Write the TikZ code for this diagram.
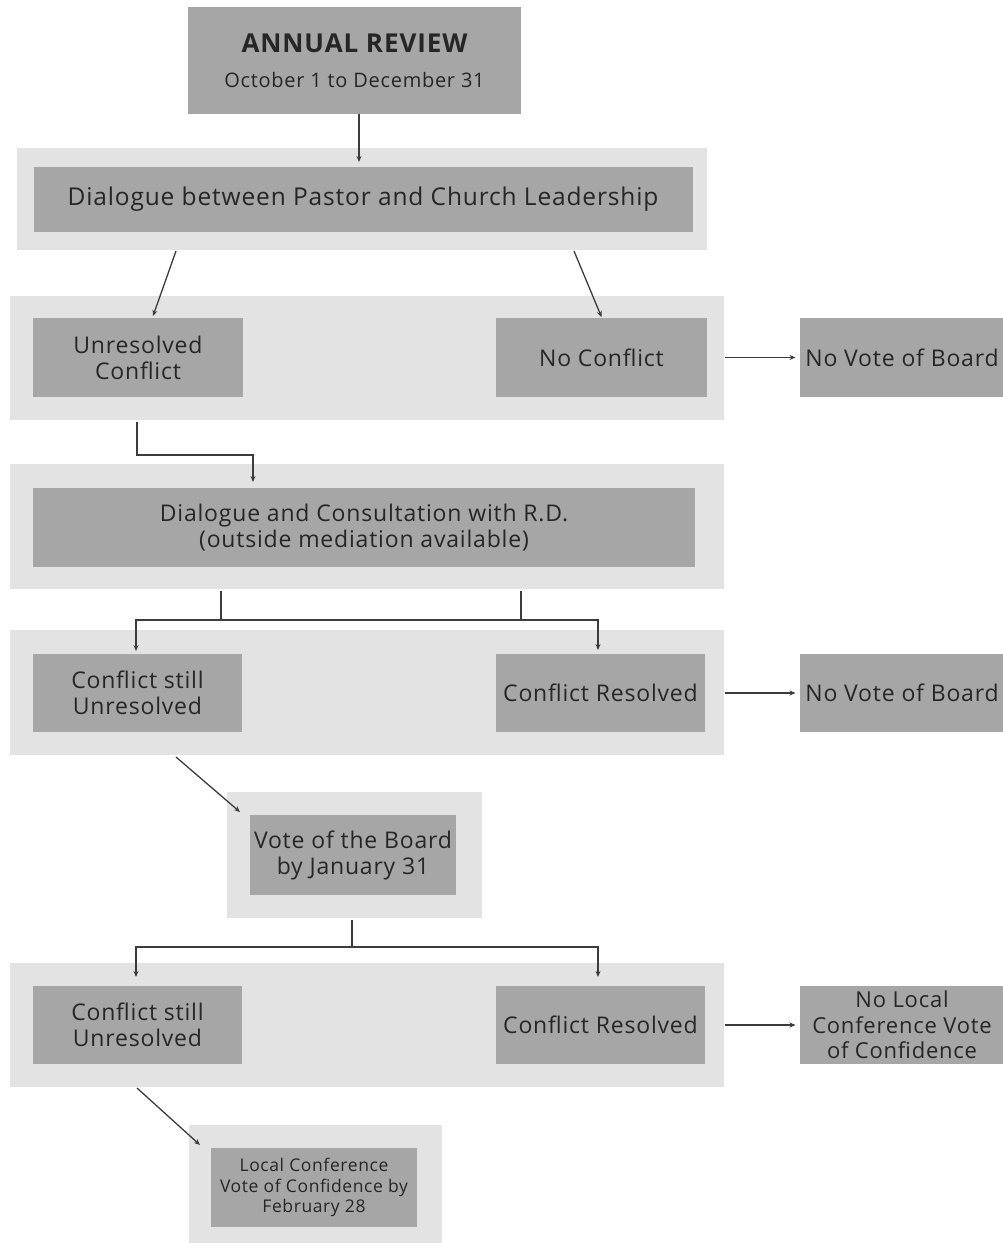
\documentclass[tikz,border=0pt]{standalone}
\usepackage{fontspec}
\setmainfont{Open Sans}[LetterSpace=3.5]
\usetikzlibrary{arrows.meta,calc}
\definecolor{dk}{HTML}{A6A6A6}
\definecolor{lt}{HTML}{E3E3E3}
\definecolor{lnc}{HTML}{3C3C3C}
\definecolor{tx}{HTML}{262626}
\begin{document}
\begin{tikzpicture}[x=1pt,y=-1pt,
  outer/.style={fill=lt, draw=none, inner sep=0pt, outer sep=0pt},
  box/.style={fill=dk, draw=none, inner sep=0pt, outer sep=0pt, text=tx, align=center,
              font=\fontsize{23}{26}\selectfont},
  arr/.style={draw=lnc, line width=1.3pt, -{Stealth[length=6pt,width=5pt]}},
  lnk/.style={draw=lnc, line width=1.3pt}]
\clip (0,0) rectangle (1003,1243);
\fill[white] (0,0) rectangle (1003,1243);

% top box
\node[box, minimum width=333pt, minimum height=107pt] (annual) at (354.5,60.5)
  {{\fontsize{26}{28}\selectfont\bfseries ANNUAL REVIEW}\\[9pt]{\fontsize{20}{22}\selectfont October 1 to December 31}};

% level 1
\node[outer, minimum width=690pt, minimum height=102pt] (outer1) at (362,199) {};
\node[box, minimum width=659pt, minimum height=65pt, font=\fontsize{24.5}{28}\selectfont] (dlg) at (363,199.5)
  {Dialogue between Pastor and Church Leadership};

% level 2
\node[outer, minimum width=714pt, minimum height=124pt] (outer2) at (367,358) {};
\node[box, minimum width=210pt, minimum height=79pt] (unres) at (138,357.5) {Unresolved\\Conflict};
\node[box, minimum width=211pt, minimum height=79pt] (nocon) at (601.5,357.5) {No Conflict};
\node[box, minimum width=205pt, minimum height=79pt] (novote1) at (902,357.5) {No Vote of Board};

% level 3
\node[outer, minimum width=714pt, minimum height=125pt] (outer3) at (367,526.5) {};
\node[box, minimum width=662pt, minimum height=79pt] (consult) at (364,527.5)
  {Dialogue and Consultation with R.D.\\(outside mediation available)};

% level 4
\node[outer, minimum width=714pt, minimum height=125pt] (outer4) at (367,692.5) {};
\node[box, minimum width=209pt, minimum height=78pt] (still1) at (137.5,693) {Conflict still\\Unresolved};
\node[box, minimum width=209pt, minimum height=78pt] (res1) at (600.5,693) {Conflict Resolved};
\node[box, minimum width=205pt, minimum height=78pt] (novote2) at (902,693) {No Vote of Board};

% level 5
\node[outer, minimum width=255pt, minimum height=126pt] (outer5) at (354.5,855) {};
\node[box, minimum width=206pt, minimum height=80pt] (vote) at (353,855) {Vote of the Board\\by January 31};

% level 6
\node[outer, minimum width=714pt, minimum height=124pt] (outer6) at (367,1025) {};
\node[box, minimum width=209pt, minimum height=78pt] (still2) at (137.5,1025) {Conflict still\\Unresolved};
\node[box, minimum width=209pt, minimum height=78pt] (res2) at (600.5,1025) {Conflict Resolved};
\node[box, minimum width=205pt, minimum height=78pt, font=\fontsize{22}{25.5}\selectfont] (nolocal) at (902,1025)
  {No Local\\Conference Vote\\of Confidence};

% level 7
\node[outer, minimum width=253pt, minimum height=130pt] (outer7) at (315.5,1190) {};
\node[box, minimum width=206pt, minimum height=79pt, font=\fontsize{17.5}{20.5}\selectfont] (final) at (314,1187.5)
  {Local Conference\\Vote of Confidence by\\February 28};

% connectors
\draw[arr] ([xshift=4.5pt]annual.south) -- ([xshift=-4pt,yshift=5pt]dlg.north);
\draw[arr] ($(outer1.south)+(-186,1)$) -- ($(unres.north)+(15,-2)$);
\draw[arr] ($(outer1.south)+(212,1)$) -- ($(nocon.north)+(0,-1)$);
\draw[arr] ($(outer2.east |- nocon.east)+(1,0)$) -- ([xshift=-4pt]novote1.west);
\draw[arr] ($(unres.south |- outer2.south)+(-1,2)$) -- ++(0,33) -| ([xshift=-111pt,yshift=6pt]consult.north);

\coordinate (fa) at (221,620);
\coordinate (fb) at (521,620);
\draw[lnk] ($(outer3.south -| fa)+(0,2)$) -- (fa);
\draw[lnk] ($(outer3.south -| fb)+(0,2)$) -- (fb);
\draw[arr] (fb) -| ([xshift=-1.5pt,yshift=3pt]still1.north);
\draw[arr] (fa) -| ([xshift=-2.5pt,yshift=4pt]res1.north);
\draw[arr] ($(outer4.east |- res1.east)+(1,0)$) -- ([xshift=-4pt]novote2.west);

\draw[arr] ($(still1.south |- outer4.south)+(38.5,2)$) -- ($(vote.north west)+(-10,-3)$);

\coordinate (fc) at (352,947);
\draw[lnk] ($(outer5.south -| fc)+(0,2)$) -- (fc);
\draw[arr] (fc) -| ([xshift=-1.5pt,yshift=9pt]still2.north);
\draw[arr] (fc) -| ([xshift=-2.5pt,yshift=9pt]res2.north);
\draw[arr] ($(outer6.east |- res2.east)+(1,0)$) -- ([xshift=-4pt]nolocal.west);

\draw[arr] ($(still2.south |- outer6.south)+(-0.5,1)$) -- ($(final.north west)+(-11,-3)$);
\end{tikzpicture}
\end{document}
